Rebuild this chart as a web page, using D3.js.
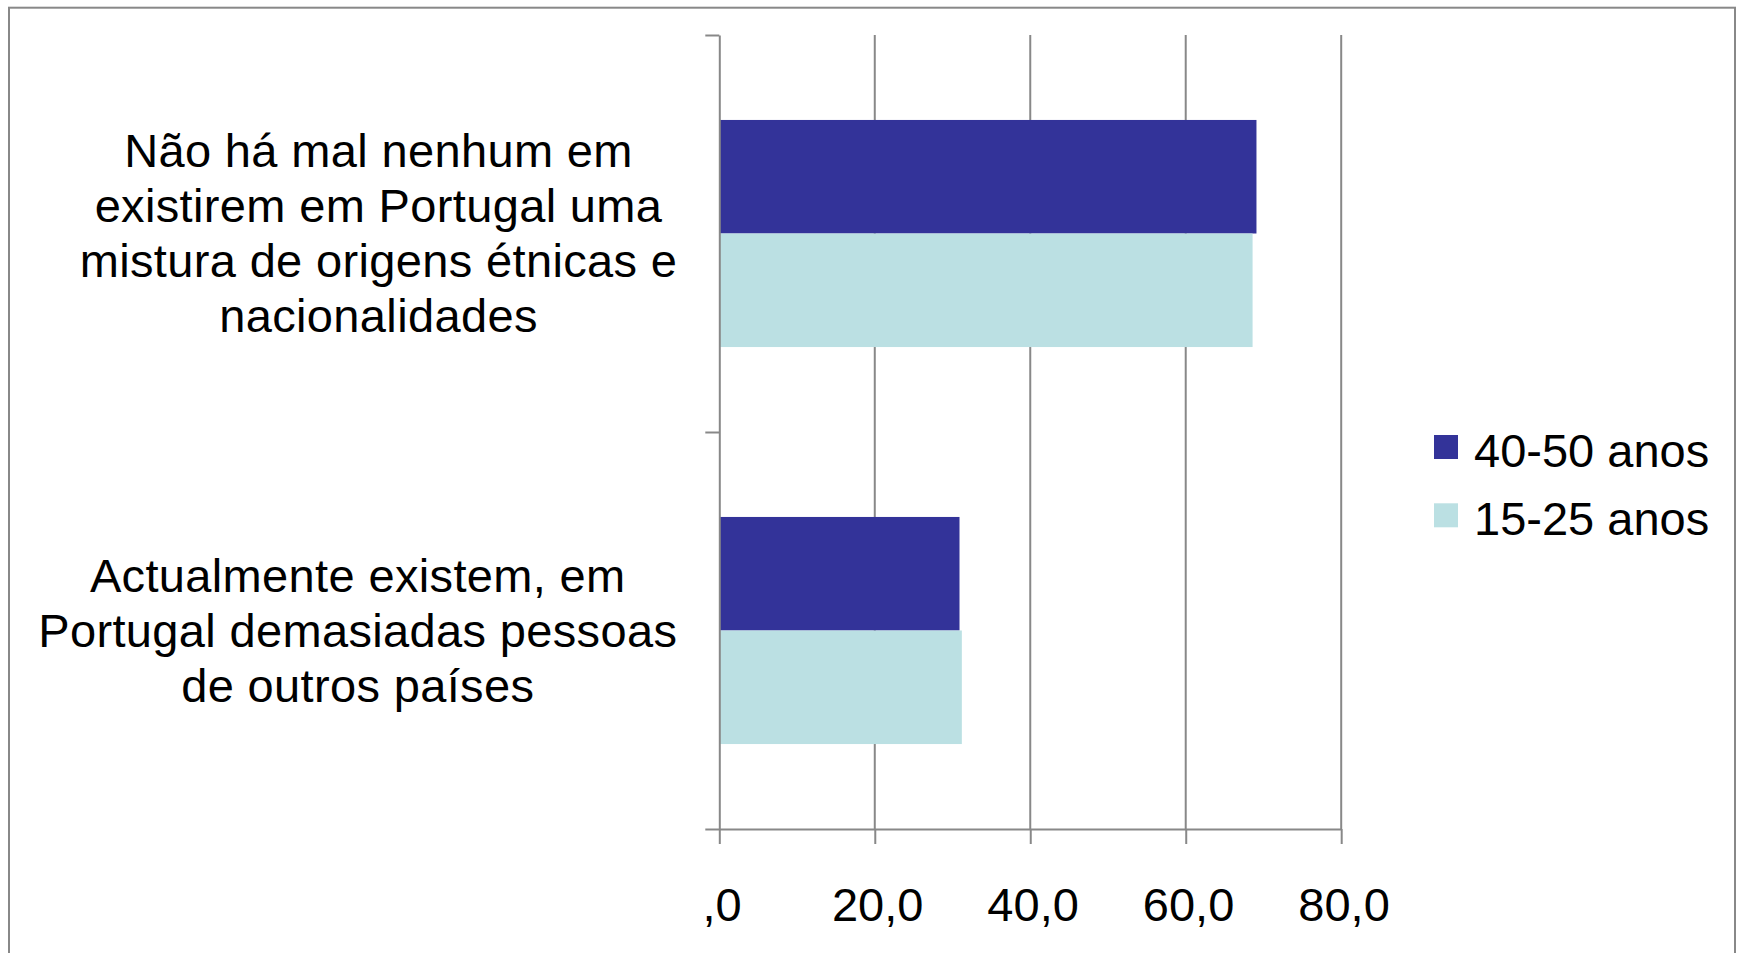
<!DOCTYPE html>
<html>
<head>
<meta charset="utf-8">
<script src="https://cdn.jsdelivr.net/npm/d3@7"></script>
<style>
  body { margin: 0; background: #fff; }
  text { font-family: "Liberation Sans", Arial, sans-serif; fill: #000; }
</style>
</head>
<body>
<div id="chart"></div>
<script>
// Data (categories listed top to bottom as drawn)
var categories = ["nao_ha_mal", "demasiadas"];
var categoryLines = [
  ["Não há mal nenhum em", "existirem em Portugal uma", "mistura de origens étnicas e", "nacionalidades"],
  ["Actualmente existem, em", "Portugal demasiadas pessoas", "de outros países"]
];
var seriesNames = ["40-50 anos", "15-25 anos"];
var values4050 = [69.1, 30.9];
var values1525 = [68.6, 31.2];
var tickValues = [0, 20, 40, 60, 80];
var tickLabels = [",0", "20,0", "40,0", "60,0", "80,0"];
var colors = ["#333399", "#bbe0e3"];

var W = 1741, H = 953;
var fontSize = 47;
var gridColor = "#888888";

var svg = d3.select("#chart")
  .append("svg")
  .attr("width", W)
  .attr("height", H);

// Chart area border
svg.append("rect")
  .attr("x", 9).attr("y", 7.7)
  .attr("width", 1726).attr("height", 980)
  .attr("fill", "#fff")
  .attr("stroke", gridColor)
  .attr("stroke-width", 2);

// Plot area
var plotLeft = 719.3, plotRight = 1341.2, plotTop = 35, plotBottom = 829;

var x = d3.scaleLinear()
  .domain([0, 80])
  .range([plotLeft, plotRight]);

var y = d3.scaleBand()
  .domain(categories)
  .range([plotTop, plotBottom])
  .paddingInner(0.428)
  .paddingOuter(0.214);

var ySub = d3.scaleBand()
  .domain(seriesNames)
  .range([0, y.bandwidth()]);

// Vertical gridlines
svg.append("g")
  .selectAll("line")
  .data(tickValues.slice(1))
  .enter()
  .append("line")
  .attr("x1", function (d) { return x(d) })
  .attr("x2", function (d) { return x(d) })
  .attr("y1", plotTop)
  .attr("y2", plotBottom)
  .attr("stroke", gridColor)
  .attr("stroke-width", 2);

// Bars
var rows = categories.map(function (c, i) {
  return { cat: c, vals: [values4050[i], values1525[i]] };
});

var groups = svg.append("g")
  .selectAll("g")
  .data(rows)
  .enter()
  .append("g")
  .attr("transform", function (d) { return "translate(0," + y(d.cat) + ")" });

groups.selectAll("rect")
  .data(function (d) {
    return d.vals.map(function (v, j) { return { s: seriesNames[j], v: v, j: j } });
  })
  .enter()
  .append("rect")
  .attr("x", x(0))
  .attr("y", function (d) { return ySub(d.s) })
  .attr("width", function (d) { return x(d.v) - x(0) })
  .attr("height", ySub.bandwidth())
  .attr("fill", function (d) { return colors[d.j] });

// X axis
var xAxis = svg.append("g")
  .attr("transform", "translate(0," + plotBottom + ")")
  .call(d3.axisBottom(x)
    .tickValues(tickValues)
    .tickSize(15)
    .tickSizeOuter(0)
    .tickPadding(44)
    .tickFormat(function (d, i) { return tickLabels[i] }));
xAxis.select(".domain").attr("stroke", gridColor).attr("stroke-width", 2);
xAxis.selectAll(".tick line").attr("stroke", gridColor).attr("stroke-width", 2);
xAxis.selectAll(".tick text")
  .attr("font-size", fontSize)
  .attr("dx", "0.05em")
  .style("font-family", "'Liberation Sans', Arial, sans-serif")
  .attr("fill", "#000");

// Y axis (ticks at category boundaries)
var yEdges = d3.scaleLinear().domain([0, categories.length]).range([plotTop, plotBottom]);
var yAxis = svg.append("g")
  .attr("transform", "translate(" + plotLeft + ",0)")
  .call(d3.axisLeft(yEdges)
    .tickValues(d3.range(categories.length + 1))
    .tickSize(14)
    .tickSizeOuter(0)
    .tickFormat(""));
yAxis.select(".domain").attr("stroke", gridColor).attr("stroke-width", 2);
yAxis.selectAll(".tick line").attr("stroke", gridColor).attr("stroke-width", 2);

// Category labels: wrapped, centred within a box right-aligned to the axis
var labelRight = plotLeft - 42;
var lineH = 55;
categoryLines.forEach(function (lines, i) {
  var t = svg.append("text")
    .attr("font-size", fontSize)
    .attr("letter-spacing", "0.35px")
    .attr("text-anchor", "middle");
  var cy = y(categories[i]) + y.bandwidth() / 2;
  lines.forEach(function (ln, k) {
    t.append("tspan")
      .attr("y", cy + (k - (lines.length - 1) / 2) * lineH + fontSize * 0.35)
      .text(ln);
  });
  var maxW = 0;
  t.selectAll("tspan").each(function () {
    maxW = Math.max(maxW, this.getComputedTextLength());
  });
  t.selectAll("tspan").attr("x", labelRight - maxW / 2);
});

// Legend
var legend = svg.append("g")
  .selectAll("g")
  .data(seriesNames)
  .enter()
  .append("g")
  .attr("transform", function (d, i) { return "translate(1434," + (435 + i * 68.3) + ")" });
legend.append("rect")
  .attr("width", 24).attr("height", 24)
  .attr("fill", function (d, i) { return colors[i] });
legend.append("text")
  .attr("x", 40)
  .attr("y", 31.7)
  .attr("font-size", fontSize)
  .text(function (d) { return d });
</script>
</body>
</html>
